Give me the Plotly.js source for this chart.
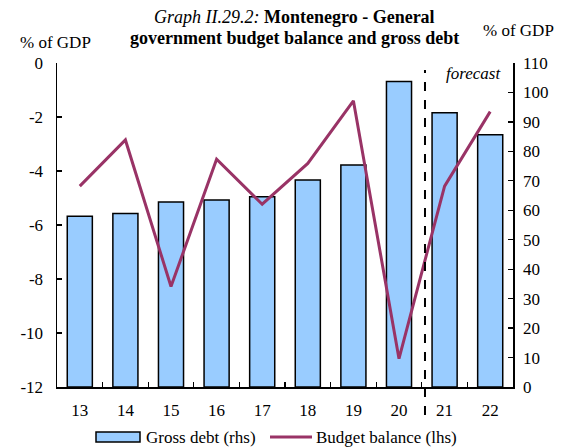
<!DOCTYPE html>
<html><head><meta charset="utf-8">
<script src="https://cdn.plot.ly/plotly-3.0.1.min.js"></script>
<style>html,body{margin:0;padding:0;background:#fff}#c{width:561px;height:448px}</style>
</head><body><div id="c"></div>
<script>
var years = ["13","14","15","16","17","18","19","20","21","22"];
var grossDebt = [58.0, 58.9, 62.8, 63.5, 64.6, 70.3, 75.4, 103.7, 93.1, 85.6];
var budgetBalance = [-4.56, -2.85, -8.28, -3.56, -5.23, -3.72, -1.40, -10.95, -4.56, -1.80];
var leftTicks = [0, -2, -4, -6, -8, -10, -12];
var leftTickText = ["0", "-2", "-4", "-6", "-8", "-10", "-12"];
var rightTicks = [0,10,20,30,40,50,60,70,80,90,100,110];
var seriesNames = ["Gross debt (rhs)", "Budget balance (lhs)"];

var F = "Liberation Serif, Times New Roman, serif";
var W = 561, H = 448, L = 57, R = 48, T = 63, B = 61;
var pw = W - L - R, ph = H - T - B;
function px(x){ return (x - L) / pw; }
function py(y){ return (H - B - y) / ph; }

var traces = [
  {type:"bar", x:years, y:grossDebt, name:seriesNames[0], yaxis:"y",
   marker:{color:"#99CCFF", line:{color:"#000", width:1.5}}},
  {type:"scatter", mode:"lines", x:years, y:budgetBalance, name:seriesNames[1], yaxis:"y2",
   line:{color:"#993366", width:3}}
];
var layout = {
  width:W, height:H,
  margin:{l:L, r:R, t:T, b:B},
  paper_bgcolor:"#fff", plot_bgcolor:"rgba(0,0,0,0)",
  font:{family:F, size:17, color:"#000"},
  bargap:0.45,
  showlegend:false,
  xaxis:{type:"category", showline:true, linecolor:"#000", linewidth:1.5, ticks:"inside",
         tickson:"boundaries", ticklen:5, tickcolor:"#000", tickwidth:1.2, showgrid:false,
         zeroline:false, tickfont:{family:F, size:17}, ticklabelstandoff:7, automargin:false},
  yaxis:{side:"right", range:[0,110], tickvals:rightTicks, ticks:"inside", ticklen:5,
         tickcolor:"#000", tickwidth:1.2, showline:true, linecolor:"#000", linewidth:1.5,
         showgrid:false, zeroline:false, tickfont:{family:F, size:17}, ticklabelstandoff:5, automargin:false},
  yaxis2:{side:"left", overlaying:"y", range:[-12,0], tickvals:leftTicks, ticktext:leftTickText,
         ticks:"inside", ticklen:5,
         tickcolor:"#000", tickwidth:1.2, showline:true, linecolor:"#000", linewidth:1.5,
         showgrid:false, zeroline:false, tickfont:{family:F, size:17}, ticklabelstandoff:9, automargin:false},
  shapes:[
    {type:"line", xref:"x", yref:"paper", x0:7.57, x1:7.57, y0:py(415), y1:py(70),
     line:{color:"#000", width:2, dash:"dash"}},
    {type:"rect", xref:"paper", yref:"paper", x0:px(96), x1:px(140), y0:py(442), y1:py(432),
     fillcolor:"#99CCFF", line:{color:"#000", width:1.5}},
    {type:"line", xref:"paper", yref:"paper", x0:px(270), x1:px(312), y0:py(437), y1:py(437),
     line:{color:"#993366", width:3}}
  ],
  annotations:[
    {xref:"paper", yref:"paper", x:px(294), y:1.0, yshift:46, xanchor:"center", yanchor:"middle", showarrow:false,
     text:"<i>Graph II.29.2:</i> <b>Montenegro - General</b>", font:{family:F, size:18}},
    {xref:"paper", yref:"paper", x:px(294), y:1.0, yshift:25, xanchor:"center", yanchor:"middle", showarrow:false,
     text:"<b>government budget balance and gross debt</b>", font:{family:F, size:18}},
    {xref:"paper", yref:"paper", x:px(55), y:1.0, yshift:21, xanchor:"center", yanchor:"middle", showarrow:false,
     text:"% of GDP", font:{family:F, size:17}},
    {xref:"paper", yref:"paper", x:px(518), y:1.0, yshift:33, xanchor:"center", yanchor:"middle", showarrow:false,
     text:"% of GDP", font:{family:F, size:17}},
    {xref:"paper", yref:"paper", x:px(503), y:1.0, yshift:-10, xanchor:"right", yanchor:"middle", showarrow:false,
     text:"<i>forecast</i>", font:{family:F, size:17}},
    {xref:"paper", yref:"paper", x:px(144), y:py(437), xanchor:"left", yanchor:"middle", showarrow:false,
     text:seriesNames[0], font:{family:F, size:17}},
    {xref:"paper", yref:"paper", x:px(314), y:py(437), xanchor:"left", yanchor:"middle", showarrow:false,
     text:seriesNames[1], font:{family:F, size:17}}
  ]
};
Plotly.newPlot("c", traces, layout, {staticPlot:true, displayModeBar:false});
</script></body></html>
